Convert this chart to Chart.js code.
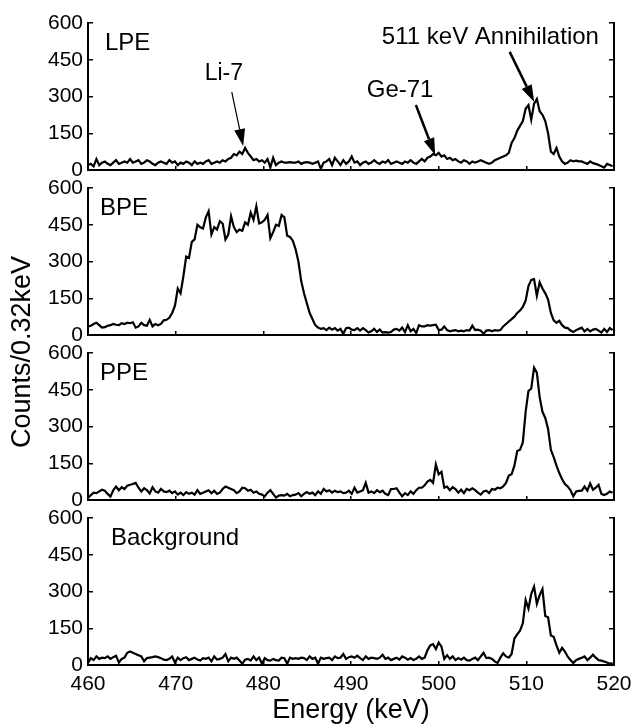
<!DOCTYPE html>
<html>
<head>
<meta charset="utf-8">
<script src="https://cdn.jsdelivr.net/npm/chart.js@4.4.0/dist/chart.umd.min.js"></script>
<style>
  html, body { margin: 0; padding: 0; background: #fff; }
  #wrap { position: relative; width: 634px; height: 727px; }
  #wrap canvas { position: absolute; left: 0; top: 0; width: 634px; height: 727px; }
</style>
</head>
<body>
<div id="wrap">
  <canvas id="p0" width="634" height="727"></canvas>
  <canvas id="p1" width="634" height="727"></canvas>
  <canvas id="p2" width="634" height="727"></canvas>
  <canvas id="p3" width="634" height="727"></canvas>
</div>
<script>
// energy bins (keV)
const startEnergy = 460
const binWidth = 0.32
const xTickValues = [460, 470, 480, 490, 500, 510, 520]
const yTickValues = [0, 150, 300, 450, 600]
const panelNames = ['LPE', 'BPE', 'PPE', 'Background']

// counts per 0.32 keV bin
const lpeCounts = [
  20, 25, 15, 45, 20, 30, 35, 25, 20, 30,
  40, 25, 30, 35, 30, 45, 30, 35, 40, 25,
  30, 40, 35, 25, 20, 30, 35, 30, 25, 40,
  30, 35, 20, 30, 25, 35, 30, 20, 35, 25,
  30, 25, 35, 40, 25, 30, 35, 30, 40, 35,
  45, 50, 65, 60, 75, 65, 90, 70, 55, 40,
  45, 35, 40, 30, 45, 10, 50, 20, 30, 35,
  30, 30, 32, 30, 30, 35, 25, 30, 32, 30,
  25, 30, 35, 5, 30, 35, 45, 20, 50, 35,
  20, 40, 25, 35, 55, 30, 35, 20, 30,
  35, 25, 30, 40, 30, 25, 35, 30, 40, 25,
  30, 35, 30, 25, 35, 30, 40, 30, 25, 35,
  45, 35, 50, 55, 65, 60, 70, 55, 60, 45,
  50, 40, 45, 35, 30, 40, 35, 25, 35, 30,
  35, 40, 35, 30, 25, 30, 40, 45, 50,
  55, 60, 70, 110, 130, 160, 180, 200, 250, 265,
  205, 270, 290, 240, 225, 200, 150, 75, 65, 90,
  55, 35, 25, 30, 40, 35, 38, 35, 35, 30,
  25, 35, 28, 25, 20, 15, 10, 25, 20, 15
]
const bpeCounts = [
  35, 38, 45, 50, 40, 30, 32, 38, 40, 45,
  42, 40, 48, 45, 50, 48, 52, 30, 35, 50,
  40, 38, 62, 35, 45, 40, 45, 60, 62, 70,
  90, 120, 190, 170, 240, 320, 315, 380, 390, 450,
  440, 435, 480, 505, 410, 440, 430, 465, 455, 390,
  410, 485, 440, 420, 430, 425, 460, 450, 500, 470,
  525, 455, 460, 470, 490, 395, 420, 450, 445, 490,
  480, 405, 400, 385, 350, 300, 220, 170, 130, 90,
  65, 40, 30, 25, 28, 20, 30, 22, 28, 18,
  25, 5, 28, 30, 22, 20, 28, 18, 28,
  20, 10, 15, 25, 12, 22, 10, 12, 10, 12,
  22, 25, 18, 30, 12, 40, 15, 25, 8, 40,
  35, 35, 40, 38, 40, 42, 20, 22, 35, 20,
  15, 18, 20, 15, 18, 15, 20, 18, 38, 20,
  22, 18, 5, 18, 20, 15, 20, 18, 20, 35,
  45, 55, 65, 75, 90, 100, 115, 140, 200, 225,
  228, 160, 215, 190, 170, 145, 90, 60, 50, 58,
  40, 30, 28, 18, 12, 20, 25, 30, 15, 25,
  15, 22, 25, 18, 10, 25, 12, 28, 20
]
const ppeCounts = [
  8, 20, 30, 28, 35, 42, 38, 25, 14, 40,
  55, 40, 52, 45, 58, 62, 65, 70, 50, 35,
  48, 40, 27, 52, 35, 30, 45, 35, 32, 38,
  28, 35, 22, 30, 20, 32, 25, 30, 22, 40,
  25, 30, 35, 40, 28, 38, 25, 30, 45, 55,
  50, 45, 40, 28, 35, 50, 48, 38, 42, 30,
  35, 25, 22, 15, 30, 40, 25, 10, 18, 20,
  18, 25, 15, 20, 22, 28, 15, 25, 32, 25,
  30, 20, 35, 25, 45, 35, 40, 30, 38, 32,
  35, 28, 30, 38, 25, 50, 30, 35, 40,
  70, 30, 35, 28, 40, 32, 38, 25, 20, 45,
  45, 48, 30, 15, 28, 20, 35, 25, 40, 50,
  50, 60, 75, 82, 70, 145, 105, 115, 50, 55,
  40, 52, 45, 30, 42, 28, 45, 40, 48, 40,
  30, 22, 35, 38, 28, 45, 42, 50, 48, 55,
  70, 100, 105, 140, 200, 205, 235, 360, 445, 455,
  540, 520, 420, 360, 335, 290, 205, 175, 140, 110,
  85, 65, 55, 40, 15, 35, 37, 38, 55, 38,
  68, 42, 50, 62, 25, 20, 25, 35, 30
]
const bkgCounts = [
  8, 28, 20, 35, 25, 30, 28, 35, 25, 32,
  38, 10, 25, 30, 50, 55, 50, 45, 40, 35,
  15, 28, 30, 32, 35, 32, 28, 22, 20, 25,
  35, 10, 30, 20, 28, 32, 20, 25, 30, 22,
  18, 28, 25, 30, 15, 35, 22, 25, 30, 45,
  15, 30, 25, 30, 18, 5, 22, 25, 18, 35,
  20, 30, 5, 28, 20, 18, 25, 20, 18, 30,
  28, 5, 30, 25, 28, 25, 30, 28, 20, 35,
  25, 30, 5, 30, 25, 28, 30, 20, 35, 28,
  30, 45, 25, 32, 35, 30, 38, 28, 20,
  35, 25, 30, 28, 25, 30, 42, 25, 30, 20,
  25, 30, 22, 35, 30, 22, 28, 20, 25, 35,
  25, 30, 60, 80, 85, 65, 92, 75, 25, 40,
  25, 35, 20, 28, 22, 30, 20, 18, 25, 30,
  20, 35, 50, 28, 30, 25, 15, 8, 30, 48,
  35, 30, 45, 108, 125, 140, 170, 265, 230, 290,
  320, 250, 285, 310, 200, 195, 120, 115, 80, 50,
  70, 55, 34, 20, 8, 20, 25, 30, 35, 20,
  30, 42, 30, 20, 18, 14, 10, 5, 8
]

// arrows in the LPE panel, in data units (keV, counts)
const lpeNotes = [
  { text: 'Li-7', size: 23, at: [475.5, 367], from: [476.4, 318], to: [477.7, 98], width: 1.2 },
  { text: 'Ge-71', size: 24, at: [495.6, 298], from: [497.4, 265], to: [499.6, 61], width: 2.5 },
  { text: '511 keV Annihilation', size: 24, at: [505.9, 514], from: [508.1, 482], to: [510.9, 278], width: 2.5 }
]

const FONT = '"Liberation Sans", Arial, Helvetica, sans-serif'
const W = 634, H = 727
const panelTops = [23, 188, 353, 518]
const panelHeight = 147
const plotLeft = 88, plotRight = 614

// panel name in the upper left corner
const panelLabel = {
    id: 'panelLabel',
    afterDraw(chart, args, opts) {
        const ctx = chart.ctx, a = chart.chartArea
        ctx.save()
        ctx.fillStyle = '#000'
        ctx.font = '24px ' + FONT
        ctx.textBaseline = 'alphabetic'
        ctx.fillText(opts.text, a.left + opts.dx, a.top + 27)
        ctx.restore()
    }
}

// arrows with labels (LPE)
const arrowNotes = {
    id: 'arrowNotes',
    afterDraw(chart, args, opts) {
        if (!opts.notes) return
        const ctx = chart.ctx, sx = chart.scales.x, sy = chart.scales.y
        ctx.save()
        ctx.fillStyle = '#000'
        ctx.strokeStyle = '#000'
        ctx.textAlign = 'center'
        opts.notes.forEach(n => {
            ctx.font = n.size + 'px ' + FONT
            ctx.fillText(n.text, sx.getPixelForValue(n.at[0]), sy.getPixelForValue(n.at[1]))
            const x0 = sx.getPixelForValue(n.from[0]), y0 = sy.getPixelForValue(n.from[1])
            const x1 = sx.getPixelForValue(n.to[0]), y1 = sy.getPixelForValue(n.to[1])
            const ang = Math.atan2(y1 - y0, x1 - x0)
            const hl = 17, hw = 5.5
            const bx = x1 - hl * Math.cos(ang), by = y1 - hl * Math.sin(ang)
            ctx.lineWidth = n.width
            ctx.beginPath()
            ctx.moveTo(x0, y0)
            ctx.lineTo(bx, by)
            ctx.stroke()
            ctx.beginPath()
            ctx.moveTo(x1, y1)
            ctx.lineTo(bx + hw * Math.sin(ang), by - hw * Math.cos(ang))
            ctx.lineTo(bx - hw * Math.sin(ang), by + hw * Math.cos(ang))
            ctx.closePath()
            ctx.fill()
        })
        ctx.restore()
    }
}

// shared y title, drawn once on the last panel
const yTitle = {
    id: 'yTitle',
    afterDraw(chart, args, opts) {
        if (!opts.text) return
        const ctx = chart.ctx
        ctx.save()
        ctx.fillStyle = '#000'
        ctx.font = '27px ' + FONT
        ctx.textAlign = 'center'
        ctx.textBaseline = 'middle'
        ctx.translate(23, 352)
        ctx.rotate(-Math.PI / 2)
        ctx.fillText(opts.text, 0, 0)
        ctx.restore()
    }
}

const setTicks = values => scale => { scale.ticks = values.map(v => ({ value: v })) }

function makePanel(id, counts, k, extra) {
    const last = k === panelTops.length - 1
    const top = panelTops[k]
    const bottom = top + panelHeight
    const xAxisHeight = last ? H - bottom : 0
    return new Chart(document.getElementById(id), {
        type: 'line',
        data: {
            datasets: [{
                data: counts.map((c, i) => ({ x: startEnergy + i * binWidth, y: c })),
                borderColor: '#000',
                borderWidth: 2.2,
                pointRadius: 0,
                tension: 0,
                fill: false
            }]
        },
        options: {
            responsive: false,
            animation: false,
            events: [],
            layout: { padding: { top: top, bottom: H - bottom - xAxisHeight, left: 0, right: W - plotRight } },
            plugins: {
                legend: { display: false },
                tooltip: { enabled: false },
                panelLabel: { text: panelNames[k], dx: k === 3 ? 23 : (k === 0 ? 17 : 12) },
                arrowNotes: { notes: extra.notes },
                yTitle: { text: extra.yTitle }
            },
            scales: {
                x: {
                    type: 'linear',
                    min: xTickValues[0],
                    max: xTickValues[xTickValues.length - 1],
                    afterBuildTicks: setTicks(xTickValues),
                    grid: { drawOnChartArea: false, drawTicks: true, tickLength: -4, color: '#000', lineWidth: 1.5 },
                    border: { display: true, color: '#000', width: 2 },
                    ticks: { display: last, padding: 11, color: '#000', maxRotation: 0, font: { family: FONT, size: 21 } },
                    title: { display: last, text: 'Energy (keV)', color: '#000', font: { family: FONT, size: 27 }, padding: { top: 0, bottom: 0 } },
                    afterFit: s => { s.height = xAxisHeight; s.paddingLeft = 0; s.paddingRight = 0 }
                },
                y: {
                    position: 'left',
                    min: yTickValues[0],
                    max: yTickValues[yTickValues.length - 1],
                    afterBuildTicks: setTicks(yTickValues),
                    grid: { drawOnChartArea: false, drawTicks: true, tickLength: -5, color: '#000', lineWidth: 1.5 },
                    border: { display: true, color: '#000', width: 2 },
                    ticks: { padding: 10, color: '#000', font: { family: FONT, size: 21 } },
                    afterFit: s => { s.width = plotLeft; s.paddingTop = 0; s.paddingBottom = 0 }
                },
                y2: {
                    position: 'right',
                    min: yTickValues[0],
                    max: yTickValues[yTickValues.length - 1],
                    afterBuildTicks: setTicks(yTickValues),
                    grid: { drawOnChartArea: false, drawTicks: true, tickLength: -5, color: '#000', lineWidth: 1.5 },
                    border: { display: true, color: '#000', width: 2 },
                    ticks: { display: false },
                    afterFit: s => { s.width = 0 }
                }
            }
        },
        plugins: [panelLabel, arrowNotes, yTitle]
    })
}

makePanel('p0', lpeCounts, 0, { notes: lpeNotes })
makePanel('p1', bpeCounts, 1, {})
makePanel('p2', ppeCounts, 2, {})
makePanel('p3', bkgCounts, 3, { yTitle: 'Counts/0.32keV' })
</script>
</body>
</html>
